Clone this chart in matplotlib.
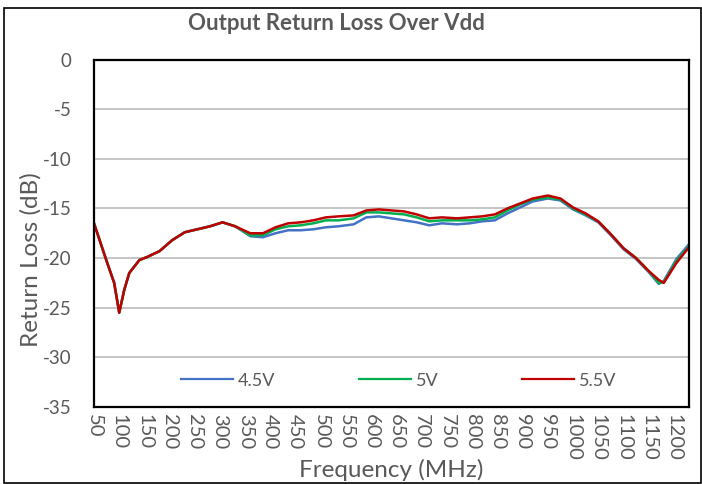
import matplotlib
matplotlib.use("Agg")
import matplotlib.pyplot as plt
from matplotlib.patches import Rectangle

plt.rcParams['font.family'] = ['Lato', 'DejaVu Sans']

freq = [50, 75, 90, 100, 110, 120, 140, 155, 180, 205, 230, 255, 280, 305, 330,
        360, 385, 410, 435, 460, 485, 510, 535, 565, 590, 615, 640, 665, 690,
        715, 740, 770, 795, 820, 845, 870, 895, 920, 950, 975, 1000, 1025,
        1050, 1075, 1100, 1125, 1150, 1170, 1180, 1205, 1230]

v45 = [-16.5, -20.3, -22.5, -25.5, -23.2, -21.5, -20.2, -19.9, -19.3, -18.2, -17.4, -17.1,
       -16.8, -16.4, -16.8, -17.8, -17.9, -17.5, -17.2, -17.2, -17.1, -16.9, -16.8, -16.6,
       -15.9, -15.8, -16.0, -16.2, -16.4, -16.7, -16.5, -16.6, -16.5, -16.3, -16.2, -15.5,
       -14.9, -14.3, -14.0, -14.2, -15.1, -15.7, -16.4, -17.7, -19.1, -20.1, -21.4, -22.6,
       -22.3, -20.1, -18.6]

v50 = [-16.5, -20.3, -22.5, -25.5, -23.2, -21.5, -20.2, -19.9, -19.3, -18.2, -17.4, -17.1,
       -16.8, -16.4, -16.8, -17.7, -17.7, -17.1, -16.8, -16.7, -16.5, -16.2, -16.2, -16.0,
       -15.4, -15.4, -15.5, -15.6, -15.9, -16.3, -16.2, -16.2, -16.2, -16.1, -15.9, -15.2,
       -14.6, -14.1, -13.9, -14.1, -15.0, -15.6, -16.3, -17.6, -19.0, -20.0, -21.3, -22.5,
       -22.4, -20.3, -18.8]

v55 = [-16.5, -20.3, -22.5, -25.5, -23.2, -21.5, -20.2, -19.9, -19.3, -18.2, -17.4, -17.1,
       -16.8, -16.4, -16.8, -17.5, -17.5, -16.9, -16.5, -16.4, -16.2, -15.9, -15.8, -15.7,
       -15.2, -15.1, -15.2, -15.3, -15.6, -16.0, -15.9, -16.0, -15.9, -15.8, -15.6, -15.0,
       -14.5, -14.0, -13.7, -14.0, -14.9, -15.5, -16.3, -17.6, -19.0, -20.0, -21.3, -22.2,
       -22.5, -20.5, -18.9]

labels = ["4.5V", "5V", "5.5V"]
colors = ["#4472C4", "#00B050", "#C00000"]
xticks = list(range(50, 1201, 50))
yticks = [0, -5, -10, -15, -20, -25, -30, -35]

W, H = 702, 484
fig = plt.figure(figsize=(W / 100, H / 100), dpi=100)
fig.patch.set_facecolor("white")
fig.patches.append(Rectangle((4 / W, 1 - 483 / H), 697 / W, 475 / H,
                             transform=fig.transFigure, fill=False,
                             edgecolor="black", linewidth=1.2))

ax = fig.add_axes([94 / W, 1 - 407 / H, 595 / W, 347.5 / H])
for vals, lab, c in zip([v45, v50, v55], labels, colors):
    ax.plot(freq, vals, color=c, lw=1.8, label=lab, solid_joinstyle="round")

ax.set_xlim(50, 1230)
ax.set_ylim(-35, 0)
ax.set_xticks(xticks)
ax.set_xticklabels([str(t) for t in xticks], rotation=270, fontsize=14.5,
                   color="#595959", va="top", ha="center")
ax.set_yticks(yticks)
ax.set_yticklabels([str(t) for t in yticks], fontsize=13.5, color="#595959")
ax.tick_params(axis="both", length=0)
ax.tick_params(axis="y", pad=16)
ax.tick_params(axis="x", pad=5)
ax.grid(axis="y", color="#C0C0C0", lw=1.3)
ax.set_axisbelow(True)
for s in ax.spines.values():
    s.set_color("black")
    s.set_linewidth(1.6)

leg = ax.legend(loc="center", bbox_to_anchor=(0.512, 0.0757), ncol=3, frameon=False,
                fontsize=13, handlelength=2.88, handletextpad=0.3,
                columnspacing=4.6, labelcolor="#595959")
for line in leg.get_lines():
    line.set_linewidth(1.6)

fig.text(336.5 / W, 1 - 29.5 / H, "Output Return Loss Over Vdd", ha="center",
         va="baseline", fontsize=16, fontweight="bold", color="#595959")
fig.text(38 / W, 1 - 259.5 / H, "Return Loss (dB)", rotation=90,
         rotation_mode="anchor", ha="center", va="baseline",
         fontsize=17.5, color="#595959")
fig.text(391 / W, 1 - 477 / H, "Frequency (MHz)", ha="center", va="baseline",
         fontsize=17.5, color="#595959")

fig.savefig("out.png", dpi=100)
